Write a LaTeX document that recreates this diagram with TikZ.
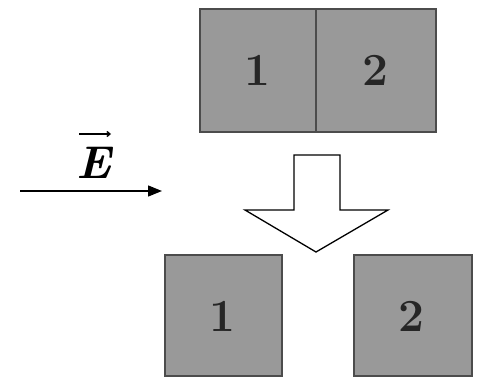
\documentclass[tikz,border=0pt]{standalone}
\usetikzlibrary{arrows.meta}
\definecolor{boxfill}{gray}{0.60}
\definecolor{boxline}{gray}{0.30}
\begin{document}
\begin{tikzpicture}[x=1pt,y=-1pt,
  plate/.style={draw=boxline,fill=boxfill,line width=1.8pt},
  digit/.style={font=\fontsize{46}{46}\selectfont\bfseries,text=black!85},
  field/.style={-{Triangle[length=14pt,width=11pt]},line width=1.4pt},
  vecbar/.style={-{Straight Barb[length=3pt,width=5pt]},line width=1.4pt}]
\useasboundingbox (0,0) rectangle (481,377);
% top combined plate
\node[plate,minimum width=116pt,minimum height=123pt,anchor=north west,inner sep=0pt] (p1) at (199,8) {};
\node[plate,minimum width=120pt,minimum height=123pt,anchor=north west,inner sep=0pt] (p2) at (315,8) {};
\node[digit] (t1) at (257,70) {1};
\node[digit] (t2) at (375,70) {2};
% hollow arrow
\draw[line width=1.3pt,fill=white,line join=miter]
  (294,155) -- (340,155) -- (340,210) -- (388,210) -- (316,252) -- (245,210) -- (294,210) -- cycle;
% field arrow
\coordinate (e0) at (20,191);
\coordinate (e1) at (162,191);
\draw[field] (e0) -- (e1);
\node[font=\fontsize{46}{46}\selectfont\bfseries\itshape,inner sep=0pt] (E) at (94,163) {E};
\coordinate (va) at (79,134);
\coordinate (vb) at (111,134);
\draw[vecbar] (va) -- (vb);
% bottom separated plates
\node[plate,minimum width=117pt,minimum height=121pt,anchor=north west,inner sep=0pt] (b1) at (164,254) {};
\node[plate,minimum width=118pt,minimum height=121pt,anchor=north west,inner sep=0pt] (b2) at (353,254) {};
\node[digit] (u1) at (222,316) {1};
\node[digit] (u2) at (411,316) {2};
\end{tikzpicture}
\end{document}
